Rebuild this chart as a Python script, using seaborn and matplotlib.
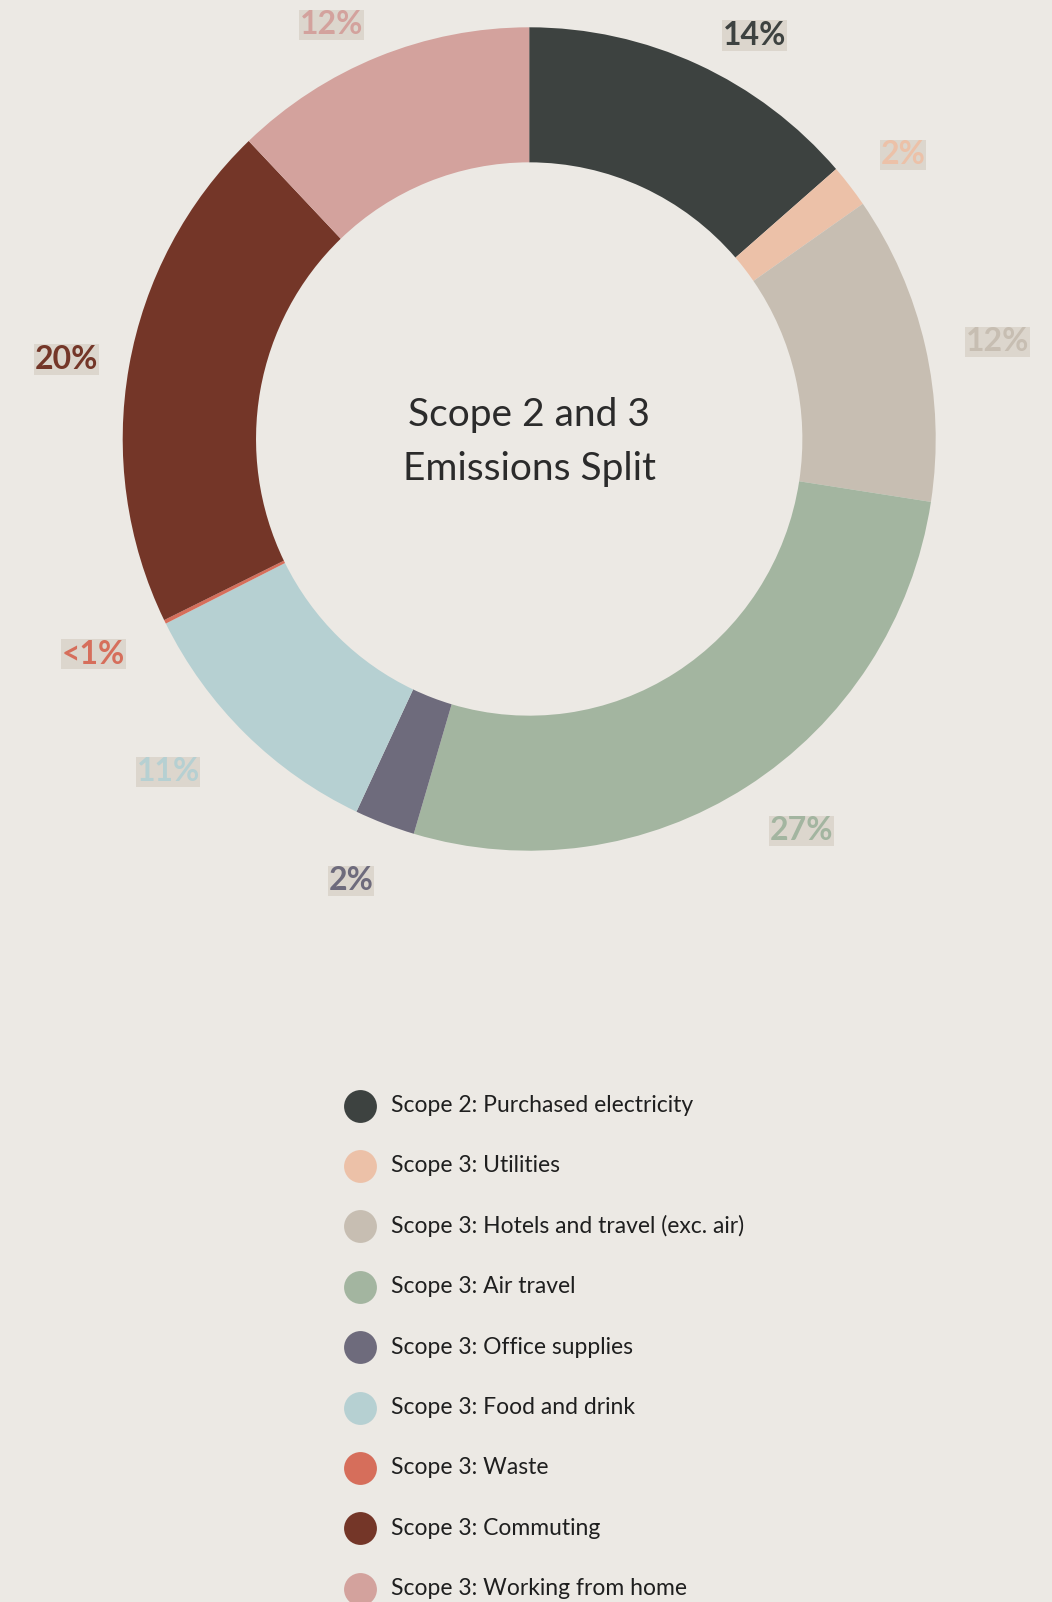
import numpy as np
import matplotlib
matplotlib.use("Agg")
import matplotlib.pyplot as plt
import seaborn as sns

# data (percent of total, clockwise from 12 o'clock)
categories = [
    "Scope 2: Purchased electricity",
    "Scope 3: Utilities",
    "Scope 3: Hotels and travel (exc. air)",
    "Scope 3: Air travel",
    "Scope 3: Office supplies",
    "Scope 3: Food and drink",
    "Scope 3: Waste",
    "Scope 3: Commuting",
    "Scope 3: Working from home",
]
shares = [13.6, 1.7, 12.1, 27.1, 2.4, 10.6, 0.15, 20.1, 12.1]
pct_labels = ["14%", "2%", "12%", "27%", "2%", "11%", "<1%", "20%", "12%"]
colors = ["#3d4240", "#ecc1a8", "#c7beb2", "#a3b5a0", "#6e6b7c",
          "#b6d0d2", "#d66e5b", "#743628", "#d3a29d"]

# small hand nudges (px, right / down) so labels sit where the original put them
label_nudge = [(6, 13), (-5, -3), (-4, 6), (-1, 5), (5, 14),
               (-14, 5), (1, 12), (14, 1), (2, 11)]

BG = "#ece9e4"
W, H = 1052, 1602

sns.set_theme(style="white", rc={"figure.facecolor": BG, "axes.facecolor": BG})
plt.rcParams["font.family"] = ["Lato", "DejaVu Sans"]
palette = sns.color_palette(colors)

fig = plt.figure(figsize=(W / 100, H / 100), dpi=100)

# donut axes: centre (529, 439) px, radius ~406 px wide / ~412 px tall
cx, cy = 529.2, 439.0
rx, ry = 406.5, 411.7
lim = 1.3
ax = fig.add_axes([(cx - lim * rx) / W, (H - cy - lim * ry) / H,
                   2 * lim * rx / W, 2 * lim * ry / H])
ax.pie(
    shares,
    colors=palette,
    startangle=90,
    counterclock=False,
    radius=1.0,
    wedgeprops=dict(width=0.328, linewidth=0),
)
ax.set_xlim(-lim, lim)
ax.set_ylim(-lim, lim)
ax.set_aspect("auto")
ax.axis("off")

# percentage labels outside each slice
cum = np.cumsum([0] + shares[:-1])
total = sum(shares)
r_lab = 1.112
for start, val, lab, col, (nx, ny) in zip(cum, shares, pct_labels, palette, label_nudge):
    mid = (start + val / 2) / total * 360
    ang = np.deg2rad(90 - mid)
    x, y = r_lab * np.cos(ang), r_lab * np.sin(ang)
    ax.annotate(lab, xy=(x, y), xytext=(nx * 0.72, -ny * 0.72),
                textcoords="offset points",
                ha="left" if x > 0 else "right", va="center",
                fontsize=23, fontweight="bold", color=col,
                bbox=dict(boxstyle="square,pad=0.02", fc="#dcd6cd", ec="none"))

# overlay axes in pixel coordinates for centre title and legend
ov = fig.add_axes([0, 0, 1, 1])
ov.set_xlim(0, W)
ov.set_ylim(H, 0)
ov.axis("off")
ov.patch.set_alpha(0)

ov.text(cx, cy + 3, "Scope 2 and 3\nEmissions Split", ha="center", va="center",
        fontsize=28, color="#2b2b2b", linespacing=1.62)

leg_x, leg_y0, leg_step = 360, 1105.5, 60.4
for i, (name, col) in enumerate(zip(categories, palette)):
    y = leg_y0 + leg_step * i
    ov.scatter(leg_x, y, s=560, color=col, linewidths=0, zorder=3)
    ov.text(leg_x + 31, y, name, ha="left", va="center", fontsize=16.5, color="#1f1f1f")

fig.savefig("out.png", dpi=100, facecolor=BG)
